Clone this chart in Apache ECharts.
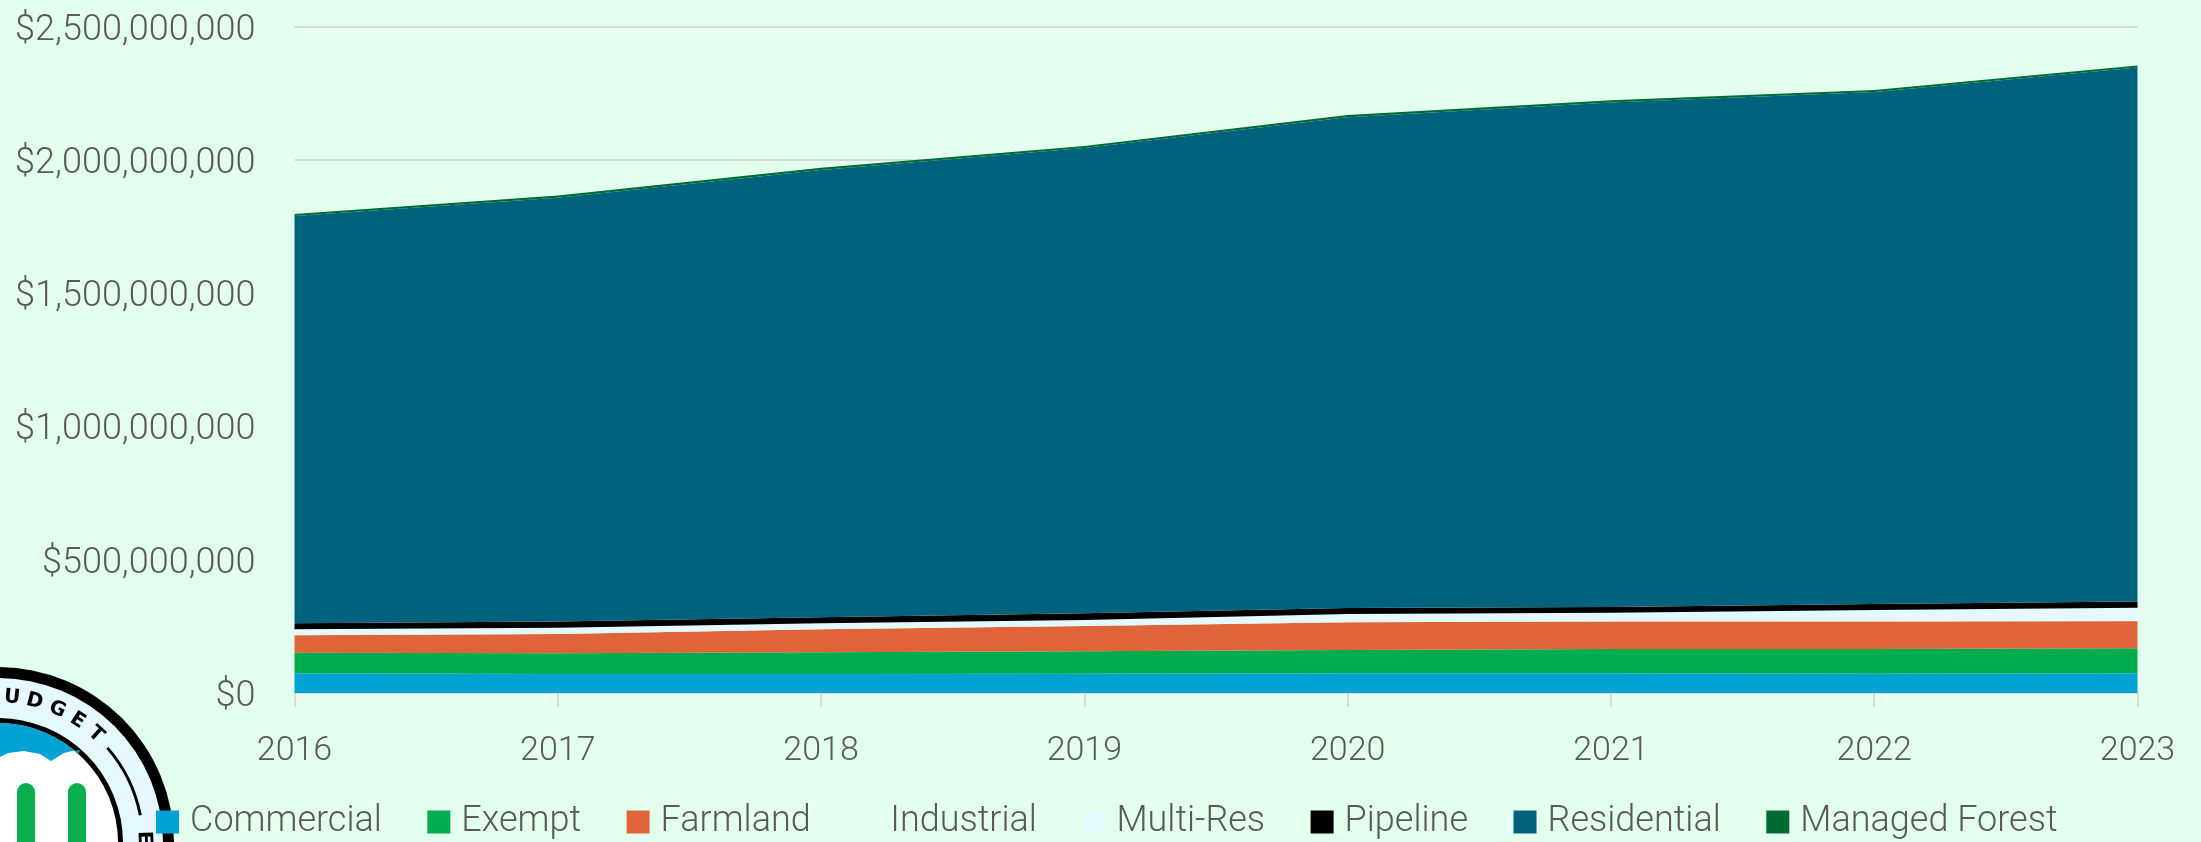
<!DOCTYPE html>
<html>
<head>
<meta charset="utf-8">
<style>
  html, body { margin: 0; padding: 0; background: #E3FFEE; }
  #chart { width: 2201px; height: 842px; }
</style>
<script src="https://cdn.jsdelivr.net/npm/echarts@6/dist/echarts.min.js"></script>
</head>
<body>
<div id="chart"></div>
<script>
// Assessed value by property class, dollars
const years = ['2016', '2017', '2018', '2019', '2020', '2021', '2022', '2023'];
const commercial = [74000000, 71000000, 71000000, 72000000, 74000000, 74000000, 72500000, 74000000];
const exempt = [77000000, 78000000, 82000000, 84500000, 87000000, 91000000, 92500000, 94000000];
const farmland = [66000000, 72000000, 86000000, 95000000, 104000000, 103000000, 103000000, 101000000];
const industrial = [1000000, 1000000, 1000000, 1000000, 1000000, 1000000, 1000000, 1000000];
const multiRes = [21000000, 23000000, 22000000, 21500000, 30600000, 32000000, 42600000, 50000000];
const pipeline = [23000000, 23000000, 22000000, 25000000, 22400000, 22000000, 22400000, 23000000];
const residential = [1527000000, 1590000000, 1678000000, 1745000000, 1841000000, 1892000000, 1920000000, 2003000000];
const managedForest = [8000000, 8000000, 8000000, 8000000, 8000000, 8000000, 8000000, 8000000];

const PAGE_BG = '#E3FFEE';
const TEXT = '#595959';
const RULE = '#D9D9D9';
const FONT = 'Roboto';

const seriesDefs = [
  ['Commercial', commercial, '#00A3D3'],
  ['Exempt', exempt, '#00AD4E'],
  ['Farmland', farmland, '#DF6439'],
  ['Industrial', industrial, PAGE_BG],
  ['Multi-Res', multiRes, '#E5F7FF'],
  ['Pipeline', pipeline, '#000000'],
  ['Residential', residential, '#00627D'],
  ['Managed Forest', managedForest, '#006B33']
];

// Round seal in the lower-left corner, built from plain shapes
function buildSeal() {
  const cx = -2, cy = 843;
  const ring = '#000000', pale = '#E5F7FF', sky = '#00A3D3', leaf = '#0BAF4E';
  const innerR = 120;
  const els = [
    { type: 'circle', shape: { cx, cy, r: 176 }, style: { fill: ring }, z: 0 },
    { type: 'circle', shape: { cx, cy, r: 165 }, style: { fill: pale }, z: 0 },
    { type: 'circle', shape: { cx, cy, r: 125 }, style: { fill: ring }, z: 0 },
    { type: 'circle', shape: { cx, cy, r: innerR }, style: { fill: '#FFFFFF' }, z: 0 }
  ];
  // Sky cap: top of the disc down to the two-lobed cloud outline
  const cap = [];
  for (let a = -100; a <= 43; a += 2) {
    const t = a * Math.PI / 180;
    cap.push([cx + innerR * Math.sin(t), cy - innerR * Math.cos(t)]);
  }
  const cloud = [[80, 750], [72, 751], [64, 753], [51, 761], [40, 754], [24, 751], [8, 753], [-10, 762]];
  els.push({ type: 'polygon', shape: { points: cap.concat(cloud) }, style: { fill: sky }, z: 0 });
  [[17, 18], [68, 18]].forEach(function (b) {
    els.push({
      type: 'rect',
      shape: { x: b[0], y: 783, width: b[1], height: 80, r: 9 },
      style: { fill: leaf }, z: 0
    });
  });
  // Ring lettering
  [['B', -4], ['U', 5.5], ['D', 14.5], ['G', 24], ['E', 33], ['T', 42], ['E', 88]].forEach(function (l) {
    const t = l[1] * Math.PI / 180;
    els.push({
      type: 'text',
      x: cx + 146 * Math.sin(t),
      y: cy - 146 * Math.cos(t),
      rotation: -t,
      style: {
        text: l[0], fill: '#000000', align: 'center', verticalAlign: 'middle',
        font: 'bold 20px "DejaVu Sans"'
      },
      z: 0
    });
  });
  els.push({
    type: 'arc',
    shape: { cx, cy, r: 145, startAngle: (49 - 90) * Math.PI / 180, endAngle: (79 - 90) * Math.PI / 180, clockwise: true },
    style: { stroke: '#000000', lineWidth: 3, fill: null },
    z: 0
  });
  return els;
}

const chart = echarts.init(document.getElementById('chart'), null, { renderer: 'canvas' });

chart.setOption({
  backgroundColor: PAGE_BG,
  animation: false,
  textStyle: { fontFamily: FONT, fontWeight: 300, color: TEXT },
  grid: { left: 294.5, right: 63.5, top: 26.5, bottom: 149, containLabel: false },
  graphic: { elements: buildSeal() },
  legend: {
    left: 156,
    top: 804,
    itemWidth: 23,
    itemHeight: 23,
    itemGap: 45.5,
    icon: 'rect',
    padding: 0,
    data: seriesDefs.map(function (d) { return d[0]; }),
    textStyle: { fontFamily: FONT, fontWeight: 300, fontSize: 36, color: TEXT, padding: [15, 0, 0, 6] }
  },
  xAxis: {
    type: 'category',
    boundaryGap: false,
    data: years,
    axisLine: { lineStyle: { color: RULE, width: 2 } },
    axisTick: { length: 14, lineStyle: { color: RULE, width: 2 } },
    axisLabel: { fontFamily: FONT, fontWeight: 300, fontSize: 34, color: TEXT, margin: 41, showMinLabel: true, showMaxLabel: true }
  },
  yAxis: {
    type: 'value',
    min: 0,
    max: 2500000000,
    interval: 500000000,
    axisLine: { show: false },
    axisTick: { show: false },
    splitLine: { lineStyle: { color: RULE, width: 2 } },
    axisLabel: {
      fontFamily: FONT, fontWeight: 300, fontSize: 36, color: TEXT, margin: 39,
      verticalAlign: 'top', lineHeight: 8,
      formatter: function (v) { return '$' + v.toLocaleString('en-US'); }
    }
  },
  series: seriesDefs.map(function (d) {
    return {
      name: d[0],
      type: 'line',
      stack: 'total',
      data: d[1],
      symbol: 'none',
      color: d[2],
      lineStyle: { width: 0, color: d[2] },
      areaStyle: { color: d[2], opacity: 1 },
      itemStyle: { color: d[2] }
    };
  })
});
</script>
</body>
</html>
